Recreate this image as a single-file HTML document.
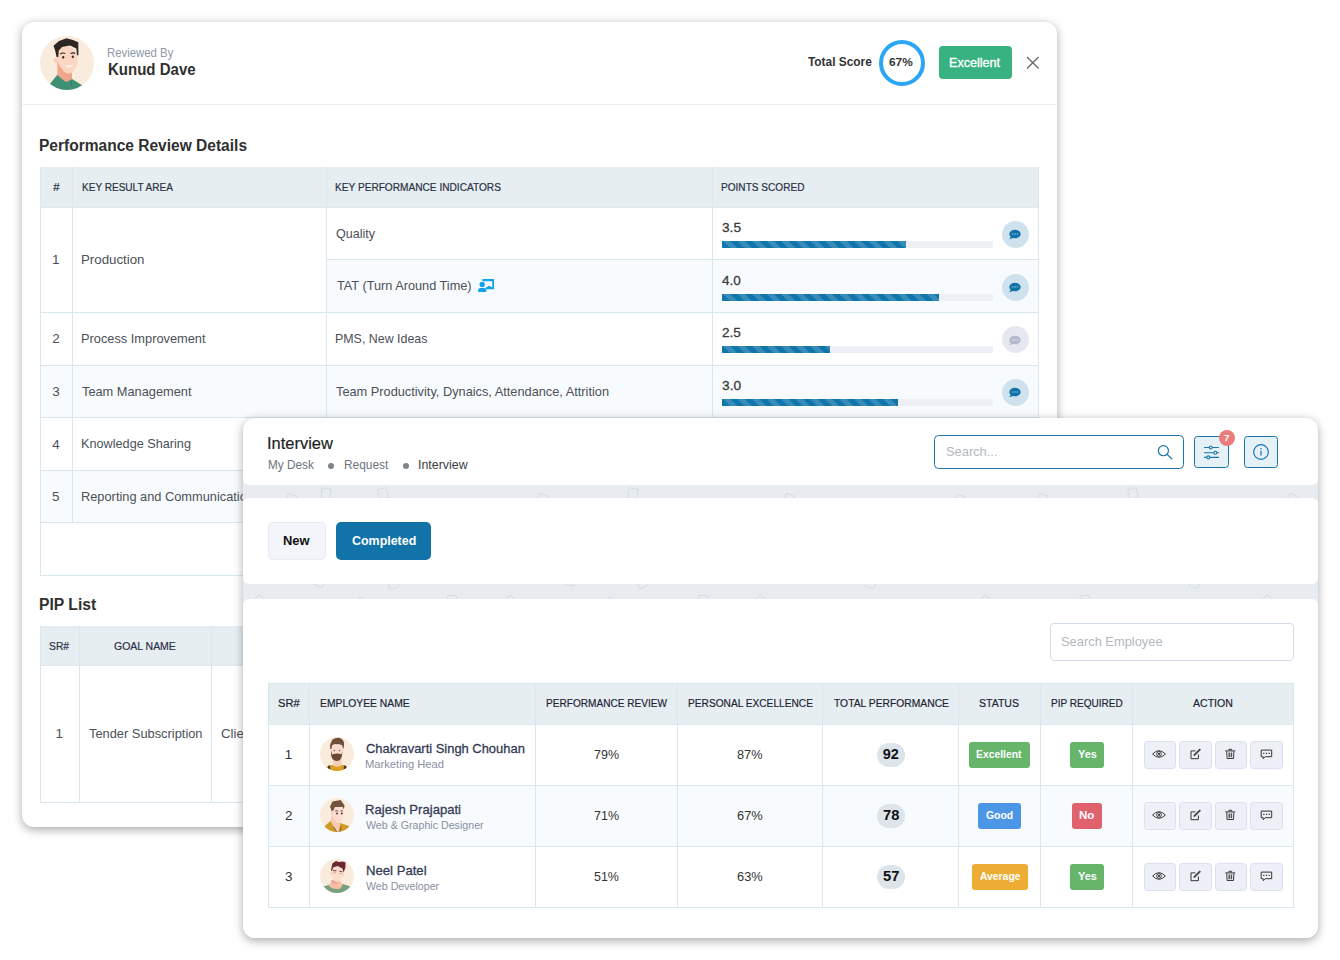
<!DOCTYPE html>
<html><head><meta charset="utf-8"><title>Performance Review</title>
<style>
html,body{margin:0;padding:0}
body{width:1340px;height:960px;background:#fff;position:relative;overflow:hidden;font-family:"Liberation Sans",sans-serif}
div,span,svg{position:absolute;box-sizing:border-box}
span{white-space:pre;line-height:1;display:block;transform-origin:0 0}

.card{background:#fff}
.ln{background:#dbe7ef}
.bar{background:#eff0f5;height:7px;width:271px;overflow:hidden}
.bar i{position:absolute;left:0;top:0;height:7px;display:block;background-color:#0f75ab;background-image:linear-gradient(45deg,rgba(255,255,255,.17) 25%,transparent 25%,transparent 50%,rgba(255,255,255,.17) 50%,rgba(255,255,255,.17) 75%,transparent 75%,transparent);background-size:14.55px 14.55px;background-position:1px 0}
.cm{width:27px;height:27px;border-radius:50%;background:#cfe2ee}
.cm.off{background:#e6e8f0}
.ab{width:32px;height:27.8px;border-radius:3.5px;background:#eef0f7;border:1px solid #dcdff0}
.bd{border-radius:3px;height:26px}
.pill{background:#dde4ea;border-radius:12px;width:28px;height:24px}
</style></head>
<body>
<div class="card" style="left:22px;top:22px;width:1035px;height:805px;border-radius:12px;box-shadow:0 2.5px 10px rgba(0,0,0,.33)"></div>
<div style="left:22px;top:104px;width:1035px;height:1px;background:#eef0f6"></div>
<svg style="left:40px;top:36px" width="54" height="54" viewBox="0 0 54 54">
<defs><clipPath id="c0"><circle cx="27" cy="27" r="27"/></clipPath></defs>
<circle cx="27" cy="27" r="27" fill="#f9ecdc"/>
<g clip-path="url(#c0)">
<path d="M17.5 38.5 L9 49 L14 56 L44 56 L42.5 49.5 L32 43 Z" fill="#3f8f74"/>
<path d="M17.2 24 L17.6 39.5 L26 46 L32 43.5 L32 35 Z" fill="#efa68d"/>
<path d="M17.2 14 L16.9 24.5 Q19.5 31.5 24.6 36.2 Q28.5 38.6 32.6 36.4 Q36.3 32.5 37.2 26 L37.5 17 L30 10.5 L19 11.5 Z" fill="#fcd5c3"/>
<ellipse cx="15.6" cy="24.6" rx="1.6" ry="2.6" fill="#f9c9b5"/>
<path d="M13.5 9.8 L19 5 L26.5 2.3 L33 4 L38.3 6.2 L38.4 19.5 L37 19 L36.3 12.5 L30 9.5 L22 11 L18.8 14.5 L18.2 21.2 L16.6 21 L15 14 Z" fill="#2d2724"/>
<path d="M20.3 18 Q22.8 16.3 25.2 17.6" stroke="#2d2724" stroke-width="1.1" fill="none"/>
<path d="M30.6 17.6 Q33 16.2 35.2 17.4" stroke="#2d2724" stroke-width="1.1" fill="none"/>
<ellipse cx="23.2" cy="21.3" rx="1.1" ry="1.4" fill="#3a2a26"/>
<ellipse cx="32.8" cy="20.8" rx="1.1" ry="1.4" fill="#3a2a26"/>
<path d="M25.8 29.6 Q29 32.6 32.6 29.3 Q29.2 30.6 25.8 29.6Z" fill="#fff" stroke="#fff" stroke-width=".6"/>
<path d="M31 43.5 L31.5 50" stroke="#2f7a62" stroke-width=".8"/>
</g></svg>
<span style="left:106.61px;top:46.66px;font-size:12.63px;color:#8f98a9;transform:scaleX(0.9003);">Reviewed By</span>
<span style="left:107.61px;top:61.50px;font-size:16.77px;color:#303030;font-weight:700;transform:scaleX(0.8955);">Kunud Dave</span>
<span style="left:807.60px;top:54.81px;font-size:13.45px;color:#333;font-weight:700;transform:scaleX(0.8831);">Total Score</span>
<div style="left:879px;top:39.5px;width:46px;height:46px;border-radius:50%;border:4.5px solid #2aa6f4"></div>
<span style="left:888.80px;top:56.57px;font-size:11.38px;color:#333;font-weight:700;transform:scaleX(1.0435);">67%</span>
<div style="left:939px;top:46px;width:73px;height:33px;background:#37b280;border-radius:4px"></div>
<span style="left:948.72px;top:55.63px;font-size:13.25px;color:#fff;-webkit-text-stroke:0.35px #fff;transform:scaleX(0.9503);">Excellent</span>
<svg style="left:1026px;top:56px" width="14" height="14" viewBox="0 0 14 14"><path d="M1 1.1 L12.6 12.6 M12.6 1.1 L1 12.6" stroke="#6a6a6a" stroke-width="1.35" fill="none"/></svg>
<span style="left:38.76px;top:137.73px;font-size:16.56px;color:#303030;font-weight:700;transform:scaleX(0.9385);">Performance Review Details</span>
<div style="left:40px;top:167px;width:999px;height:40px;background:#e6eef2"></div>
<div style="left:327px;top:259.5px;width:712px;height:52.8px;background:#f8fbfd"></div>
<div style="left:40px;top:365px;width:999px;height:52.5px;background:#f8fbfd"></div>
<div style="left:40px;top:470px;width:999px;height:52.8px;background:#f8fbfd"></div>
<div class="ln" style="left:40px;top:312px;width:999px;height:1px"></div>
<div class="ln" style="left:40px;top:365px;width:999px;height:1px"></div>
<div class="ln" style="left:40px;top:417px;width:999px;height:1px"></div>
<div class="ln" style="left:40px;top:470px;width:999px;height:1px"></div>
<div class="ln" style="left:40px;top:522px;width:999px;height:1px"></div>
<div class="ln" style="left:40px;top:575px;width:999px;height:1px"></div>
<div class="ln" style="left:326px;top:259px;width:713px;height:1px"></div>
<div style="left:40px;top:206.5px;width:999px;height:1px;background:#dfe9ef"></div>
<div class="ln" style="left:40px;top:167px;width:1px;height:409px"></div>
<div class="ln" style="left:72px;top:167px;width:1px;height:356px"></div>
<div class="ln" style="left:326px;top:167px;width:1px;height:356px"></div>
<div class="ln" style="left:712px;top:167px;width:1px;height:356px"></div>
<div class="ln" style="left:1038px;top:167px;width:1px;height:409px"></div>
<span style="left:53.20px;top:181.62px;font-size:11.38px;color:#2b3044;-webkit-text-stroke:0.2px #2b3044;">#</span>
<span style="left:81.69px;top:181.62px;font-size:11.38px;color:#2b3044;-webkit-text-stroke:0.2px #2b3044;transform:scaleX(0.8822);">KEY RESULT AREA</span>
<span style="left:334.99px;top:181.62px;font-size:11.38px;color:#2b3044;-webkit-text-stroke:0.2px #2b3044;transform:scaleX(0.8897);">KEY PERFORMANCE INDICATORS</span>
<span style="left:720.89px;top:181.62px;font-size:11.38px;color:#2b3044;-webkit-text-stroke:0.2px #2b3044;transform:scaleX(0.8860);">POINTS SCORED</span>
<span style="left:52.00px;top:252.81px;font-size:13.45px;color:#4b5058;">1</span>
<span style="left:80.52px;top:252.81px;font-size:13.45px;color:#4b5058;transform:scaleX(0.9882);">Production</span>
<span style="left:335.50px;top:226.71px;font-size:13.45px;color:#4b5058;transform:scaleX(0.9324);">Quality</span>
<span style="left:336.60px;top:278.51px;font-size:13.45px;color:#4b5058;transform:scaleX(0.9468);">TAT (Turn Around Time)</span>
<span style="left:52.20px;top:331.66px;font-size:13.45px;color:#4b5058;">2</span>
<span style="left:80.75px;top:331.66px;font-size:13.45px;color:#4b5058;transform:scaleX(0.9529);">Process Improvement</span>
<span style="left:334.69px;top:331.66px;font-size:13.45px;color:#4b5058;transform:scaleX(0.9240);">PMS, New Ideas</span>
<span style="left:52.20px;top:384.71px;font-size:13.45px;color:#4b5058;">3</span>
<span style="left:81.70px;top:384.71px;font-size:13.45px;color:#4b5058;transform:scaleX(0.9518);">Team Management</span>
<span style="left:335.60px;top:384.71px;font-size:13.45px;color:#4b5058;transform:scaleX(0.9503);">Team Productivity, Dynaics, Attendance, Attrition</span>
<span style="left:52.30px;top:437.56px;font-size:13.45px;color:#4b5058;">4</span>
<span style="left:80.66px;top:436.81px;font-size:13.45px;color:#4b5058;transform:scaleX(0.9435);">Knowledge Sharing</span>
<span style="left:51.90px;top:489.51px;font-size:13.45px;color:#4b5058;">5</span>
<span style="left:80.65px;top:489.51px;font-size:13.45px;color:#4b5058;transform:scaleX(0.9529);">Reporting and Communication</span>
<svg style="left:477.8px;top:278.8px" width="16.4" height="13.4" viewBox="0 0 16.4 13.4">
<path d="M5.2 1.1 H15.3 V9.3 H8.6" fill="none" stroke="#0fa2ea" stroke-width="2.1" stroke-linejoin="round" stroke-linecap="round"/>
<path d="M8.6 9.3 Q11.2 5.2 13.6 9.3 Z" fill="#0fa2ea" stroke="#0fa2ea" stroke-width="1"/>
<circle cx="4.2" cy="5.5" r="2.65" fill="#0fa2ea"/>
<path d="M0 12 Q0 8.9 2.6 8.9 H5.8 Q8.4 8.9 8.4 12 Q8.4 13.4 7 13.4 H1.4 Q0 13.4 0 12Z" fill="#0fa2ea"/>
</svg>
<span style="left:721.55px;top:220.71px;font-size:13.45px;color:#3a3a3a;-webkit-text-stroke:0.3px #3a3a3a;transform:scaleX(1.0165);">3.5</span>
<div class="bar" style="left:722px;top:241px"><i style="width:68%"></i></div>
<div class="cm" style="left:1002px;top:221px"></div>
<svg style="left:1008.3px;top:229.2px" width="13" height="12" viewBox="0 0 13 12"><ellipse cx="7" cy="5" rx="5.7" ry="4.3" fill="#1073a8"/><path d="M3.2 7 L1.2 10.3 L5.6 8.8 Z" fill="#1073a8"/><circle cx="4.6" cy="5" r=".8" fill="#8fbdd8"/><circle cx="7" cy="5" r=".8" fill="#8fbdd8"/><circle cx="9.4" cy="5" r=".8" fill="#8fbdd8"/></svg>
<span style="left:721.55px;top:273.71px;font-size:13.45px;color:#3a3a3a;-webkit-text-stroke:0.3px #3a3a3a;transform:scaleX(1.0066);">4.0</span>
<div class="bar" style="left:722px;top:293.5px"><i style="width:80%"></i></div>
<div class="cm" style="left:1002px;top:273.5px"></div>
<svg style="left:1008.3px;top:281.7px" width="13" height="12" viewBox="0 0 13 12"><ellipse cx="7" cy="5" rx="5.7" ry="4.3" fill="#1073a8"/><path d="M3.2 7 L1.2 10.3 L5.6 8.8 Z" fill="#1073a8"/><circle cx="4.6" cy="5" r=".8" fill="#8fbdd8"/><circle cx="7" cy="5" r=".8" fill="#8fbdd8"/><circle cx="9.4" cy="5" r=".8" fill="#8fbdd8"/></svg>
<span style="left:721.55px;top:326.01px;font-size:13.45px;color:#3a3a3a;-webkit-text-stroke:0.3px #3a3a3a;transform:scaleX(1.0096);">2.5</span>
<div class="bar" style="left:722px;top:346.3px"><i style="width:40%"></i></div>
<div class="cm off" style="left:1002px;top:326.3px"></div>
<svg style="left:1008.3px;top:334.5px" width="13" height="12" viewBox="0 0 13 12"><ellipse cx="7" cy="5" rx="5.7" ry="4.3" fill="#b4b8c8"/><path d="M3.2 7 L1.2 10.3 L5.6 8.8 Z" fill="#b4b8c8"/><circle cx="4.6" cy="5" r=".8" fill="#dfe1ea"/><circle cx="7" cy="5" r=".8" fill="#dfe1ea"/><circle cx="9.4" cy="5" r=".8" fill="#dfe1ea"/></svg>
<span style="left:721.55px;top:378.71px;font-size:13.45px;color:#3a3a3a;-webkit-text-stroke:0.3px #3a3a3a;transform:scaleX(1.0213);">3.0</span>
<div class="bar" style="left:722px;top:399px"><i style="width:65%"></i></div>
<div class="cm" style="left:1002px;top:379px"></div>
<svg style="left:1008.3px;top:387.2px" width="13" height="12" viewBox="0 0 13 12"><ellipse cx="7" cy="5" rx="5.7" ry="4.3" fill="#1073a8"/><path d="M3.2 7 L1.2 10.3 L5.6 8.8 Z" fill="#1073a8"/><circle cx="4.6" cy="5" r=".8" fill="#8fbdd8"/><circle cx="7" cy="5" r=".8" fill="#8fbdd8"/><circle cx="9.4" cy="5" r=".8" fill="#8fbdd8"/></svg>
<span style="left:38.77px;top:596.63px;font-size:16.56px;color:#303030;font-weight:700;transform:scaleX(0.9475);">PIP List</span>
<div style="left:40px;top:626px;width:999px;height:39.5px;background:#e6eef2"></div>
<div class="ln" style="left:40px;top:801.5px;width:999px;height:1px"></div>
<div style="left:40px;top:665px;width:999px;height:1px;background:#dfe9ef"></div>
<div class="ln" style="left:40px;top:626px;width:1px;height:176px"></div>
<div class="ln" style="left:79px;top:626px;width:1px;height:176px"></div>
<div class="ln" style="left:211px;top:626px;width:1px;height:176px"></div>
<div class="ln" style="left:1038px;top:626px;width:1px;height:176px"></div>
<span style="left:48.74px;top:640.67px;font-size:11.38px;color:#2b3044;-webkit-text-stroke:0.2px #2b3044;transform:scaleX(0.9064);">SR#</span>
<span style="left:113.69px;top:640.67px;font-size:11.38px;color:#2b3044;-webkit-text-stroke:0.2px #2b3044;transform:scaleX(0.9197);">GOAL NAME</span>
<span style="left:55.50px;top:726.81px;font-size:13.45px;color:#4b5058;">1</span>
<span style="left:88.70px;top:726.81px;font-size:13.45px;color:#4b5058;transform:scaleX(0.9558);">Tender Subscription</span>
<span style="left:220.70px;top:726.81px;font-size:13.45px;color:#4b5058;transform:scaleX(0.9838);">Client</span>
<div style="left:243px;top:417.5px;width:1075px;height:520px;border-radius:12px;background:#e8ecf1;box-shadow:0 2.5px 10px rgba(0,0,0,.33);overflow:hidden"><div class="card" style="left:0;top:0;width:1075px;height:67.5px;border-radius:0 0 6px 6px"></div><div class="card" style="left:0;top:80.5px;width:1075px;height:86px;border-radius:6px"></div><div class="card" style="left:0;top:181.5px;width:1075px;height:340px;border-radius:6px 6px 0 0"></div></div>
<div style="left:243px;top:485px;width:1075px;height:13px;overflow:hidden"><div style="left:-243px;top:-485px;width:1340px;height:960px"><div style="left:286px;top:494px;width:10px;height:11px;border:1px solid rgba(150,162,180,.22);border-radius:1.5px;transform:rotate(20deg)"></div><div style="left:321px;top:487.5px;width:10px;height:11px;border:1px solid rgba(150,162,180,.22);border-radius:1.5px;transform:rotate(5deg)"></div><div style="left:378px;top:488px;width:10px;height:11px;border:1px solid rgba(150,162,180,.22);border-radius:1.5px;transform:rotate(-12deg)"></div><div style="left:537px;top:494px;width:10px;height:11px;border:1px solid rgba(150,162,180,.22);border-radius:1.5px;transform:rotate(20deg)"></div><div style="left:628px;top:487.5px;width:10px;height:11px;border:1px solid rgba(150,162,180,.22);border-radius:1.5px;transform:rotate(8deg)"></div><div style="left:784px;top:494px;width:10px;height:11px;border:1px solid rgba(150,162,180,.22);border-radius:1.5px;transform:rotate(25deg)"></div><div style="left:955px;top:495px;width:10px;height:11px;border:1px solid rgba(150,162,180,.22);border-radius:1.5px;transform:rotate(15deg)"></div><div style="left:1037px;top:494px;width:10px;height:11px;border:1px solid rgba(150,162,180,.22);border-radius:1.5px;transform:rotate(20deg)"></div><div style="left:1128px;top:488px;width:10px;height:11px;border:1px solid rgba(150,162,180,.22);border-radius:1.5px;transform:rotate(-10deg)"></div><div style="left:1287px;top:494px;width:10px;height:11px;border:1px solid rgba(150,162,180,.22);border-radius:1.5px;transform:rotate(20deg)"></div></div></div>
<div style="left:243px;top:584px;width:1075px;height:15px;overflow:hidden"><div style="left:-243px;top:-584px;width:1340px;height:960px"><div style="left:315px;top:576px;width:10px;height:11px;border:1px solid rgba(150,162,180,.22);border-radius:1.5px;transform:rotate(25deg)"></div><div style="left:388px;top:577.5px;width:10px;height:11px;border:1px solid rgba(150,162,180,.22);border-radius:1.5px;transform:rotate(-20deg)"></div><div style="left:565px;top:575px;width:10px;height:11px;border:1px solid rgba(150,162,180,.22);border-radius:1.5px;transform:rotate(10deg)"></div><div style="left:637px;top:577px;width:10px;height:11px;border:1px solid rgba(150,162,180,.22);border-radius:1.5px;transform:rotate(-25deg)"></div><div style="left:254px;top:596px;width:10px;height:11px;border:1px solid rgba(150,162,180,.22);border-radius:1.5px;transform:rotate(45deg)"></div><div style="left:356px;top:598px;width:10px;height:11px;border:1px solid rgba(150,162,180,.22);border-radius:1.5px;transform:rotate(40deg)"></div><div style="left:447px;top:594.5px;width:10px;height:11px;border:1px solid rgba(150,162,180,.22);border-radius:1.5px;transform:rotate(3deg)"></div><div style="left:505px;top:596px;width:10px;height:11px;border:1px solid rgba(150,162,180,.22);border-radius:1.5px;transform:rotate(45deg)"></div><div style="left:605px;top:598px;width:10px;height:11px;border:1px solid rgba(150,162,180,.22);border-radius:1.5px;transform:rotate(40deg)"></div><div style="left:698px;top:594.5px;width:10px;height:11px;border:1px solid rgba(150,162,180,.22);border-radius:1.5px;transform:rotate(5deg)"></div><div style="left:755px;top:596px;width:10px;height:11px;border:1px solid rgba(150,162,180,.22);border-radius:1.5px;transform:rotate(45deg)"></div><div style="left:866px;top:577px;width:10px;height:11px;border:1px solid rgba(150,162,180,.22);border-radius:1.5px;transform:rotate(15deg)"></div><div style="left:980px;top:596px;width:10px;height:11px;border:1px solid rgba(150,162,180,.22);border-radius:1.5px;transform:rotate(40deg)"></div><div style="left:1080px;top:594.5px;width:10px;height:11px;border:1px solid rgba(150,162,180,.22);border-radius:1.5px;transform:rotate(-5deg)"></div><div style="left:1190px;top:577px;width:10px;height:11px;border:1px solid rgba(150,162,180,.22);border-radius:1.5px;transform:rotate(20deg)"></div><div style="left:1262px;top:596px;width:10px;height:11px;border:1px solid rgba(150,162,180,.22);border-radius:1.5px;transform:rotate(45deg)"></div></div></div>
<span style="left:266.85px;top:434.51px;font-size:17.18px;color:#222;-webkit-text-stroke:0.2px #222;transform:scaleX(0.9580);">Interview</span>
<span style="left:267.79px;top:458.61px;font-size:12.63px;color:#6c757d;transform:scaleX(0.9346);">My Desk</span>
<span style="left:343.78px;top:458.61px;font-size:12.63px;color:#6c757d;transform:scaleX(0.9436);">Request</span>
<span style="left:417.54px;top:458.61px;font-size:12.63px;color:#3a3f47;transform:scaleX(0.9828);">Interview</span>
<div style="left:328px;top:462.8px;width:6px;height:6px;border-radius:50%;background:#7d848c"></div>
<div style="left:402.6px;top:462.8px;width:6px;height:6px;border-radius:50%;background:#7d848c"></div>
<div style="left:934px;top:435px;width:250px;height:34px;border:1.2px solid #1a74a8;border-radius:4.5px;background:#fff"></div>
<span style="left:946.40px;top:445.01px;font-size:13.45px;color:#b3b8c0;transform:scaleX(0.9573);">Search...</span>
<svg style="left:1156px;top:443px" width="18" height="18" viewBox="0 0 18 18"><circle cx="7.4" cy="7.7" r="5.05" fill="none" stroke="#1a74a8" stroke-width="1.2"/><path d="M11.1 11.4 L15.8 15.8" stroke="#1a74a8" stroke-width="1.3" stroke-linecap="round"/></svg>
<div style="left:1194px;top:436px;width:35px;height:32px;border:1.2px solid #1a74a8;border-radius:3.5px;background:#e6f0f7"></div>
<svg style="left:1203px;top:444px" width="17" height="17" viewBox="0 0 17 17"><g stroke="#1a74a8" stroke-width="1.1" fill="#e6f0f7"><path d="M1 3.5H15.9M1 8.7H15.9M1 13.4H15.9" fill="none"/><circle cx="7.7" cy="3.5" r="1.5"/><circle cx="12.3" cy="8.7" r="1.5"/><circle cx="5.3" cy="13.4" r="1.5"/></g></svg>
<div style="left:1218.8px;top:429.6px;width:16.2px;height:16.2px;border-radius:50%;background:#ec7c7c"></div>
<span style="left:1223.90px;top:432.58px;font-size:9.83px;color:#fff;font-weight:700;">7</span>
<div style="left:1244px;top:436px;width:34px;height:32px;border:1.2px solid #1a74a8;border-radius:3.5px;background:#e6f0f7"></div>
<svg style="left:1251.5px;top:443.35px" width="18" height="18" viewBox="0 0 18 18"><circle cx="9" cy="9" r="7.35" fill="none" stroke="#1a74a8" stroke-width="1.15"/><circle cx="9" cy="5.7" r=".8" fill="#1a74a8"/><path d="M9 7.8 V12.6" stroke="#1a74a8" stroke-width="1.25"/></svg>
<div style="left:268px;top:522px;width:58px;height:37.7px;background:#f4f5fa;border:1px solid #e9ebf3;border-radius:5px"></div>
<span style="left:283.20px;top:533.51px;font-size:13.45px;color:#111;font-weight:700;transform:scaleX(0.9630);">New</span>
<div style="left:336px;top:522px;width:95px;height:37.7px;background:#1173a8;border-radius:5px"></div>
<span style="left:351.60px;top:533.51px;font-size:13.45px;color:#fff;font-weight:700;transform:scaleX(0.9254);">Completed</span>
<div style="left:1050px;top:623px;width:244px;height:38px;border:1px solid #d3dbe8;border-radius:4px;background:#fff"></div>
<span style="left:1061.30px;top:634.71px;font-size:13.45px;color:#b3b8c0;transform:scaleX(0.9579);">Search Employee</span>
<div style="left:268px;top:683.3px;width:1025.7px;height:41px;background:#e6eef2"></div>
<div style="left:268px;top:785.3px;width:1025.7px;height:61px;background:#f8fbfd"></div>
<div class="ln" style="left:268px;top:683px;width:1026px;height:1px"></div>
<div class="ln" style="left:268px;top:785px;width:1026px;height:1px"></div>
<div class="ln" style="left:268px;top:846px;width:1026px;height:1px"></div>
<div class="ln" style="left:268px;top:907px;width:1026px;height:1px"></div>
<div style="left:268px;top:724px;width:1026px;height:1px;background:#dfe9ef"></div>
<div class="ln" style="left:268px;top:683px;width:1px;height:225px"></div>
<div class="ln" style="left:309px;top:683px;width:1px;height:225px"></div>
<div class="ln" style="left:535px;top:683px;width:1px;height:225px"></div>
<div class="ln" style="left:677px;top:683px;width:1px;height:225px"></div>
<div class="ln" style="left:822px;top:683px;width:1px;height:225px"></div>
<div class="ln" style="left:958px;top:683px;width:1px;height:225px"></div>
<div class="ln" style="left:1040px;top:683px;width:1px;height:225px"></div>
<div class="ln" style="left:1132px;top:683px;width:1px;height:225px"></div>
<div class="ln" style="left:1293px;top:683px;width:1px;height:225px"></div>
<span style="left:277.89px;top:697.30px;font-size:11.7px;color:#1f2433;-webkit-text-stroke:0.2px #1f2433;transform:scaleX(0.9508);">SR#</span>
<span style="left:319.59px;top:697.30px;font-size:11.7px;color:#1f2433;-webkit-text-stroke:0.2px #1f2433;transform:scaleX(0.8853);">EMPLOYEE NAME</span>
<span style="left:545.59px;top:697.30px;font-size:11.7px;color:#1f2433;-webkit-text-stroke:0.2px #1f2433;transform:scaleX(0.8631);">PERFORMANCE REVIEW</span>
<span style="left:687.59px;top:697.30px;font-size:11.7px;color:#1f2433;-webkit-text-stroke:0.2px #1f2433;transform:scaleX(0.8688);">PERSONAL EXCELLENCE</span>
<span style="left:833.69px;top:697.30px;font-size:11.7px;color:#1f2433;-webkit-text-stroke:0.2px #1f2433;transform:scaleX(0.8824);">TOTAL PERFORMANCE</span>
<span style="left:978.89px;top:697.30px;font-size:11.7px;color:#1f2433;-webkit-text-stroke:0.2px #1f2433;transform:scaleX(0.9001);">STATUS</span>
<span style="left:1050.68px;top:697.30px;font-size:11.7px;color:#1f2433;-webkit-text-stroke:0.2px #1f2433;transform:scaleX(0.8593);">PIP REQUIRED</span>
<span style="left:1192.79px;top:697.30px;font-size:11.7px;color:#1f2433;-webkit-text-stroke:0.2px #1f2433;transform:scaleX(0.9021);">ACTION</span>
<svg width="0" height="0" style="left:0;top:0"><defs><clipPath id="cA"><circle cx="17" cy="17" r="17"/></clipPath></defs></svg>
<span style="left:284.70px;top:747.81px;font-size:13.45px;color:#333;">1</span>
<svg style="left:320px;top:737.4px" width="34" height="34" viewBox="0 0 34 34"><circle cx="17" cy="17" r="17" fill="#f9ecdc"/><g clip-path="url(#cA)">
<path d="M6.5 30 L10 28 L24 28 L27.5 30 L28 36 L6 36Z" fill="#d9a028"/>
<path d="M7.6 29.2 L9.6 28.2 L10.6 31.5 L8.6 32.2Z M26.4 29.2 L24.4 28.2 L23.4 31.5 L25.4 32.2Z" fill="#3b3347"/>
<path d="M13 22 L13 28.3 Q17 31.3 21.6 28.3 L21.8 22Z" fill="#f9ccb9"/>
<path d="M11.2 8 Q10.6 16 12 19 L21.6 19 Q23 15 22.6 8 L17 5.5Z" fill="#fcdccd"/>
<path d="M10.9 13.5 L11.2 19 Q12 22.5 14.5 23.6 Q17 24.3 19.6 23.3 Q21.6 21.8 22 18.6 L22.4 13.8 L21.4 17.3 Q17 15.8 12.3 17.6Z" fill="#6a4837"/>
<path d="M10.3 12 Q9.4 7.5 11.3 5 Q12 2 15.5 1.2 Q19 0 21.6 2 Q24.3 3.6 24 7.5 Q24.3 10 23 12.2 L22.3 8.6 Q20 6.4 16.5 7.2 Q13.5 6.4 12 8.6 L11.3 12.3Z" fill="#6f4e3a"/>
<ellipse cx="14.3" cy="13.6" rx=".9" ry=".7" fill="#55506a"/><ellipse cx="19.5" cy="13.6" rx=".9" ry=".7" fill="#55506a"/>
</g></svg>
<span style="left:365.54px;top:741.71px;font-size:13.45px;color:#343a54;-webkit-text-stroke:0.3px #343a54;transform:scaleX(0.9621);">Chakravarti Singh Chouhan</span>
<span style="left:365.40px;top:758.52px;font-size:11.38px;color:#8a90a2;transform:scaleX(0.9839);">Marketing Head</span>
<span style="left:593.50px;top:747.81px;font-size:13.45px;color:#333;transform:scaleX(0.9292);">79%</span>
<span style="left:736.85px;top:747.81px;font-size:13.45px;color:#333;transform:scaleX(0.9482);">87%</span>
<div class="pill" style="left:876.8px;top:742.8px"></div>
<span style="left:882.80px;top:746.93px;font-size:14.49px;color:#111;font-weight:700;">92</span>
<div class="bd" style="left:969px;top:742px;width:61px;background:#66b56b"></div>
<span style="left:975.95px;top:748.57px;font-size:11.38px;color:#fff;font-weight:700;transform:scaleX(0.9106);">Excellent</span>
<div class="bd" style="left:1070px;top:742px;width:34px;background:#66b56b"></div>
<span style="left:1077.75px;top:748.57px;font-size:11.38px;color:#fff;font-weight:700;transform:scaleX(0.9637);">Yes</span>
<div class="ab" style="left:1144.1px;top:741.1px;width:31.7px"></div>
<div class="ab" style="left:1179.1px;top:741.1px;width:32.7px"></div>
<div class="ab" style="left:1215.1px;top:741.1px;width:31.7px"></div>
<div class="ab" style="left:1250.1px;top:741.1px;width:32.8px"></div>
<svg style="left:1152px;top:749.6px" width="14" height="8" viewBox="0 0 14 8"><path d="M.6 4 Q7 -2.6 13.4 4 Q7 10.6 .6 4Z" fill="none" stroke="#333" stroke-width=".95"/><circle cx="7" cy="3.9" r="2.35" fill="none" stroke="#333" stroke-width=".9"/><circle cx="7" cy="3.9" r="1.05" fill="#333"/></svg>
<svg style="left:1189.6px;top:747.8px" width="12" height="12" viewBox="0 0 12 12"><path d="M5.4 2.9 H1 V10.7 H8.4 V6.4" fill="none" stroke="#333" stroke-width="1"/><path d="M4.2 7.2 L10.3 1.1" stroke="#444" stroke-width="1.9"/><path d="M3.5 8 L3.9 6.4 L5.2 7.6 Z" fill="#333"/></svg>
<svg style="left:1225.3px;top:748px" width="11" height="12" viewBox="0 0 11 12"><path d="M.3 2.9 H10.3 M3.9 2.7 V1.3 H6.7 V2.7" fill="none" stroke="#333" stroke-width=".95"/><path d="M1.7 3.2 L2.1 10.5 H8.5 L8.9 3.2" fill="none" stroke="#333" stroke-width=".95"/><path d="M4.2 4.5 V9.2 M6.4 4.5 V9.2" stroke="#555" stroke-width="1.5"/></svg>
<svg style="left:1260.3px;top:748.5px" width="13" height="12" viewBox="0 0 13 12"><path d="M1.2 1.1 H11.7 V7.7 H5.2 L3.2 9.7 V7.7 H1.2 Z" fill="none" stroke="#333" stroke-width="1" stroke-linejoin="miter"/><path d="M3.2 4.4 H4.4 M5.9 4.4 H7.1 M8.6 4.4 H9.8" stroke="#333" stroke-width="1.3"/></svg>
<span style="left:284.90px;top:808.81px;font-size:13.45px;color:#333;">2</span>
<svg style="left:320px;top:798.4px" width="34" height="34" viewBox="0 0 34 34"><circle cx="17" cy="17" r="17" fill="#f9ecdc"/><g clip-path="url(#cA)">
<path d="M10.6 23 L4.5 28.3 L7 36 L30 36 L29 28 L20.2 25 L18.6 29Z" fill="#d09a27"/>
<path d="M11.3 17.5 L11 24 L16.5 33.5 L19.3 33.5 L20 25 Z" fill="#f8c8b3"/>
<path d="M13.2 9 L12.6 18 Q14 23.5 18.6 24.8 Q21.6 24.6 22.6 20 L23.4 10.5 L18 8Z" fill="#fcdccd"/>
<ellipse cx="12" cy="15.6" rx="1.1" ry="1.9" fill="#f9ccb9"/>
<path d="M10 8.6 L12.5 3.6 L20.7 2 L24.6 7.4 L23.8 11.2 L22.6 9 L15 9 L13.3 12.6 L11.8 13.4 Z" fill="#75523b"/>
<path d="M15.2 13 L18 12.8 M20.6 12.8 L22.8 13" stroke="#5c4030" stroke-width=".9"/>
<circle cx="17" cy="15.4" r=".9" fill="#2b2230"/><circle cx="21.8" cy="15.4" r=".9" fill="#2b2230"/>
<path d="M13.6 29 L16.6 33.6 M21.2 28.6 L19.6 33.4" stroke="#5c4a2a" stroke-width=".8"/>
</g></svg>
<span style="left:364.58px;top:802.71px;font-size:13.45px;color:#343a54;-webkit-text-stroke:0.3px #343a54;transform:scaleX(0.9737);">Rajesh Prajapati</span>
<span style="left:365.70px;top:819.52px;font-size:11.38px;color:#8a90a2;transform:scaleX(0.9366);">Web &amp; Graphic Designer</span>
<span style="left:593.50px;top:808.81px;font-size:13.45px;color:#333;transform:scaleX(0.9292);">71%</span>
<span style="left:736.85px;top:808.81px;font-size:13.45px;color:#333;transform:scaleX(0.9546);">67%</span>
<div class="pill" style="left:876.8px;top:803.8px"></div>
<span style="left:882.50px;top:807.93px;font-size:14.49px;color:#111;font-weight:700;transform:scaleX(1.0179);">78</span>
<div class="bd" style="left:978px;top:803px;width:43px;background:#4b97e6"></div>
<span style="left:985.60px;top:809.57px;font-size:11.38px;color:#fff;font-weight:700;transform:scaleX(0.9122);">Good</span>
<div class="bd" style="left:1072px;top:803px;width:30px;background:#e0626f"></div>
<span style="left:1078.80px;top:809.57px;font-size:11.38px;color:#fff;font-weight:700;transform:scaleX(1.0140);">No</span>
<div class="ab" style="left:1144.1px;top:802.1px;width:31.7px"></div>
<div class="ab" style="left:1179.1px;top:802.1px;width:32.7px"></div>
<div class="ab" style="left:1215.1px;top:802.1px;width:31.7px"></div>
<div class="ab" style="left:1250.1px;top:802.1px;width:32.8px"></div>
<svg style="left:1152px;top:810.6px" width="14" height="8" viewBox="0 0 14 8"><path d="M.6 4 Q7 -2.6 13.4 4 Q7 10.6 .6 4Z" fill="none" stroke="#333" stroke-width=".95"/><circle cx="7" cy="3.9" r="2.35" fill="none" stroke="#333" stroke-width=".9"/><circle cx="7" cy="3.9" r="1.05" fill="#333"/></svg>
<svg style="left:1189.6px;top:808.8px" width="12" height="12" viewBox="0 0 12 12"><path d="M5.4 2.9 H1 V10.7 H8.4 V6.4" fill="none" stroke="#333" stroke-width="1"/><path d="M4.2 7.2 L10.3 1.1" stroke="#444" stroke-width="1.9"/><path d="M3.5 8 L3.9 6.4 L5.2 7.6 Z" fill="#333"/></svg>
<svg style="left:1225.3px;top:809px" width="11" height="12" viewBox="0 0 11 12"><path d="M.3 2.9 H10.3 M3.9 2.7 V1.3 H6.7 V2.7" fill="none" stroke="#333" stroke-width=".95"/><path d="M1.7 3.2 L2.1 10.5 H8.5 L8.9 3.2" fill="none" stroke="#333" stroke-width=".95"/><path d="M4.2 4.5 V9.2 M6.4 4.5 V9.2" stroke="#555" stroke-width="1.5"/></svg>
<svg style="left:1260.3px;top:809.5px" width="13" height="12" viewBox="0 0 13 12"><path d="M1.2 1.1 H11.7 V7.7 H5.2 L3.2 9.7 V7.7 H1.2 Z" fill="none" stroke="#333" stroke-width="1" stroke-linejoin="miter"/><path d="M3.2 4.4 H4.4 M5.9 4.4 H7.1 M8.6 4.4 H9.8" stroke="#333" stroke-width="1.3"/></svg>
<span style="left:284.90px;top:869.81px;font-size:13.45px;color:#333;">3</span>
<svg style="left:320px;top:859.4px" width="34" height="34" viewBox="0 0 34 34"><circle cx="17" cy="17" r="17" fill="#f9ecdc"/><g clip-path="url(#cA)">
<path d="M3.6 27.6 L10 25.5 L23 25 L30.5 27.5 L30 36 L4 36Z" fill="#7a9f80"/>
<path d="M11.2 21 L10.6 25.6 L8.4 26.4 Q12 30.5 20 29.8 L23 25.3 L19.5 22Z" fill="#f5bfa8"/>
<path d="M11.6 21.5 L11 25 L17 24.8 L19.6 21.6Z" fill="#f0a98f"/>
<path d="M12.2 8 L11.6 18 Q13.6 22.6 17.6 23 Q21.4 21.6 22.6 16.6 L23 9 L17 6Z" fill="#fcdccd"/>
<ellipse cx="11.2" cy="14.6" rx="1" ry="1.7" fill="#f9ccb9"/><ellipse cx="23.3" cy="15.8" rx=".9" ry="1.6" fill="#f9ccb9"/>
<path d="M11 11.6 L12.3 4.6 L16 2 L19 3 L22.6 2.6 L25.6 3.6 L25.4 9 L23.4 13.6 L22.4 9.6 L17.6 7 L13.4 8.2 L12 12 Z" fill="#6b2a33"/>
<path d="M13 11.6 L16.4 11.8 M19.4 12.2 L22.2 12.8" stroke="#5a2830" stroke-width=".9"/>
<path d="M13.6 13.8 L15.8 13.8 M19.6 14.4 L21.6 14.6" stroke="#b98a7c" stroke-width=".7"/>
</g></svg>
<span style="left:365.78px;top:863.71px;font-size:13.45px;color:#343a54;-webkit-text-stroke:0.3px #343a54;transform:scaleX(0.9765);">Neel Patel</span>
<span style="left:365.70px;top:880.52px;font-size:11.38px;color:#8a90a2;transform:scaleX(0.9351);">Web Developer</span>
<span style="left:593.50px;top:869.81px;font-size:13.45px;color:#333;transform:scaleX(0.9283);">51%</span>
<span style="left:736.85px;top:869.81px;font-size:13.45px;color:#333;transform:scaleX(0.9546);">63%</span>
<div class="pill" style="left:876.8px;top:864.8px"></div>
<span style="left:882.50px;top:868.93px;font-size:14.49px;color:#111;font-weight:700;transform:scaleX(1.0158);">57</span>
<div class="bd" style="left:972px;top:864px;width:56px;background:#edac34"></div>
<span style="left:979.65px;top:870.57px;font-size:11.38px;color:#fff;font-weight:700;transform:scaleX(0.9096);">Average</span>
<div class="bd" style="left:1070px;top:864px;width:34px;background:#66b56b"></div>
<span style="left:1077.75px;top:870.57px;font-size:11.38px;color:#fff;font-weight:700;transform:scaleX(0.9637);">Yes</span>
<div class="ab" style="left:1144.1px;top:863.1px;width:31.7px"></div>
<div class="ab" style="left:1179.1px;top:863.1px;width:32.7px"></div>
<div class="ab" style="left:1215.1px;top:863.1px;width:31.7px"></div>
<div class="ab" style="left:1250.1px;top:863.1px;width:32.8px"></div>
<svg style="left:1152px;top:871.6px" width="14" height="8" viewBox="0 0 14 8"><path d="M.6 4 Q7 -2.6 13.4 4 Q7 10.6 .6 4Z" fill="none" stroke="#333" stroke-width=".95"/><circle cx="7" cy="3.9" r="2.35" fill="none" stroke="#333" stroke-width=".9"/><circle cx="7" cy="3.9" r="1.05" fill="#333"/></svg>
<svg style="left:1189.6px;top:869.8px" width="12" height="12" viewBox="0 0 12 12"><path d="M5.4 2.9 H1 V10.7 H8.4 V6.4" fill="none" stroke="#333" stroke-width="1"/><path d="M4.2 7.2 L10.3 1.1" stroke="#444" stroke-width="1.9"/><path d="M3.5 8 L3.9 6.4 L5.2 7.6 Z" fill="#333"/></svg>
<svg style="left:1225.3px;top:870px" width="11" height="12" viewBox="0 0 11 12"><path d="M.3 2.9 H10.3 M3.9 2.7 V1.3 H6.7 V2.7" fill="none" stroke="#333" stroke-width=".95"/><path d="M1.7 3.2 L2.1 10.5 H8.5 L8.9 3.2" fill="none" stroke="#333" stroke-width=".95"/><path d="M4.2 4.5 V9.2 M6.4 4.5 V9.2" stroke="#555" stroke-width="1.5"/></svg>
<svg style="left:1260.3px;top:870.5px" width="13" height="12" viewBox="0 0 13 12"><path d="M1.2 1.1 H11.7 V7.7 H5.2 L3.2 9.7 V7.7 H1.2 Z" fill="none" stroke="#333" stroke-width="1" stroke-linejoin="miter"/><path d="M3.2 4.4 H4.4 M5.9 4.4 H7.1 M8.6 4.4 H9.8" stroke="#333" stroke-width="1.3"/></svg>
</body></html>
